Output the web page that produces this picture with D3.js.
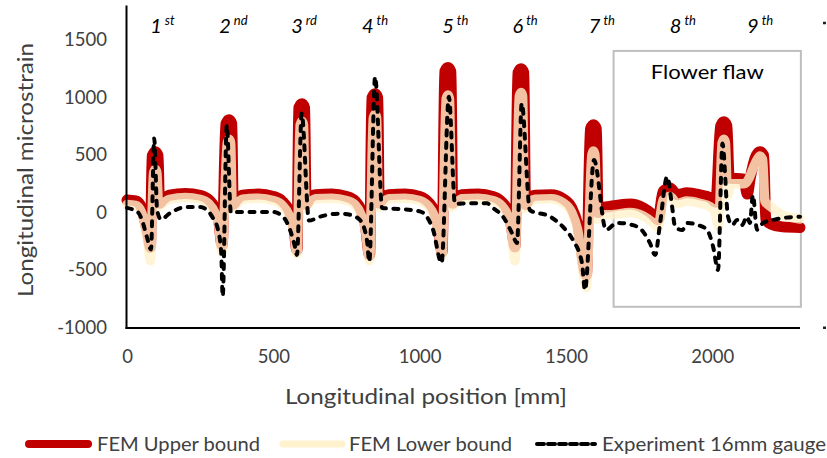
<!DOCTYPE html>
<html><head><meta charset="utf-8">
<script src="https://cdn.jsdelivr.net/npm/d3@7"></script>
<style>
body{margin:0;background:#fff}
svg text{font-family:Lato,"Open Sans",sans-serif}
</style>
</head><body>
<svg id="chart" width="827" height="458"></svg>
<script>
// ---------- DATA (position mm, microstrain) ----------
const xTicks = [0, 500, 1000, 1500, 2000];
const yTicks = [-1000, -500, 0, 500, 1000, 1500];

const upperBound = [
 [0,108],[30,100],[50,40],[62,-80],[72,-200],[80,-302],[86,493],[97,528],[106,493],[111,80],[122,110],[145,150],
 [200,165],[250,150],[280,110],[300,40],[313,-60],[325,-285],[338,772],[349,807],[358,772],[363,70],[375,110],[395,150],
 [450,160],[500,140],[530,100],[555,10],[570,-120],[581,-328],[587,910],[598,945],[607,910],[612,70],[624,120],[645,155],
 [700,160],[750,140],[780,100],[800,20],[815,-120],[829,-372],[837,997],[848,1032],[857,997],[862,80],[874,120],[895,155],
 [950,160],[1000,140],[1030,90],[1050,10],[1063,-120],[1077,-343],[1086,1226],[1097,1261],[1107,1226],[1113,80],[1125,120],[1145,155],
 [1200,160],[1250,140],[1280,95],[1300,20],[1313,-110],[1326,-300],[1336,1215],[1347,1250],[1356,1215],[1362,70],[1374,120],[1395,150],
 [1450,155],[1490,120],[1520,40],[1540,-100],[1570,-546],[1584,728],[1594,763],[1604,728],[1610,0],[1625,40],[1650,52],
 [1719,74],[1764,41],[1798,-20],[1815,-63],[1832,183],[1856,213],[1880,154],[1914,172],[1958,154],[1993,128],[2012,90],
 [2029,754],[2040,789],[2050,754],[2058,300],[2108,290],[2120,160],[2130,300],[2150,494],[2163,529],[2176,494],[2183,-60],[2200,-100],
 [2240,-125],[2300,-130]
];

const lowerBound = [
 [0,70],[30,62],[50,0],[62,-120],[72,-280],[80,-420],[91,346],[97,376],[102,346],[108,50],[120,75],[145,115],
 [200,130],[250,115],[280,75],[300,0],[313,-100],[325,-347],[343,607],[349,637],[354,607],[360,40],[375,75],[395,115],
 [450,125],[500,105],[530,65],[555,-30],[570,-160],[581,-359],[592,763],[598,793],[603,763],[609,40],[624,85],[645,120],
 [700,125],[750,105],[780,65],[800,-20],[815,-160],[829,-420],[842,824],[848,854],[853,824],[859,45],[874,85],[895,120],
 [950,125],[1000,105],[1030,55],[1050,-30],[1063,-160],[1077,-376],[1091,992],[1097,1022],[1102,992],[1109,45],[1125,85],[1145,120],
 [1200,125],[1250,105],[1280,60],[1300,-20],[1313,-150],[1326,-420],[1341,1013],[1347,1043],[1352,1013],[1358,35],[1374,85],[1395,115],
 [1450,120],[1490,85],[1520,0],[1540,-150],[1570,-652],[1589,505],[1594,535],[1599,505],[1606,-60],[1625,-20],[1650,-20],
 [1719,0],[1764,-30],[1798,-90],[1815,-130],[1832,110],[1856,140],[1880,80],[1914,100],[1958,80],[1993,50],[2010,0],
 [2022,-120],[2034,607],[2040,637],[2045,607],[2052,150],[2065,250],[2110,250],[2154,461],[2163,491],[2172,461],[2180,100],[2200,50],
 [2240,-20],[2300,-57]
];

const experiment = [
 [0,40],[38,0],[51,-65],[68,-213],[82,-322],[93,644],[103,20],[116,-60],[147,-5],[205,48],[249,48],[273,22],
 [294,-50],[311,-150],[322,-350],[327,-730],[341,760],[355,0],[386,5],[499,5],[533,-36],[557,-150],[574,-297],
 [581,-370],[597,862],[622,-70],[660,-36],[728,-10],[762,-20],[796,-65],[820,-240],[828,-428],[848,1180],[872,39],
 [933,30],[1001,10],[1046,-150],[1075,-440],[1100,1007],[1121,75],[1172,80],[1230,80],[1251,39],[1285,-36],
 [1316,-180],[1333,-265],[1349,950],[1377,20],[1446,-36],[1490,-125],[1524,-240],[1555,-440],[1565,-674],
 [1596,456],[1637,-150],[1675,-90],[1729,-110],[1764,-167],[1787,-265],[1805,-370],[1822,-90],[1846,311],
 [1863,50],[1873,-123],[1897,-152],[1917,-91],[1951,-109],[1982,-150],[2003,-297],[2020,-500],[2035,600],
 [2054,-36],[2068,-109],[2085,-65],[2102,-109],[2119,-36],[2129,-91],[2139,152],[2153,-150],[2174,-91],
 [2208,-65],[2242,-48],[2300,-36]
];

const peakNumbers = ["1","2","3","4","5","6","7","8","9"];
const peakSuffixes = ["st","nd","rd","th","th","th","th","th","th"];
const peakLabelPos = [99,335,581,823,1097,1336,1598,1875,2139];

const legendNames = ["FEM Upper bound","FEM Lower bound","Experiment 16mm gauge"];
const flawLabel = "Flower flaw";
const flawRange = [1663, 2303, -820, 1405];

// ---------- CHART ----------
const svg = d3.select("#chart");
const x = d3.scaleLinear().domain([0, 2300]).range([127, 800]);
const y = d3.scaleLinear().domain([-1000, 1800]).range([327.5, 5.5]);

const line = d3.line().x(d => x(d[0])).y(d => y(d[1])).curve(d3.curveMonotoneX);

const red = "#C00000", cream = "#FFF2CC";

// flaw box
svg.append("rect")
  .attr("x", x(flawRange[0])).attr("y", y(flawRange[3]))
  .attr("width", x(flawRange[1]) - x(flawRange[0]))
  .attr("height", y(flawRange[2]) - y(flawRange[3]))
  .attr("fill", "none").attr("stroke", "#BFBFBF").attr("stroke-width", 2);
svg.append("text").attr("x", (x(flawRange[0]) + x(flawRange[1])) / 2).attr("y", 79)
  .attr("text-anchor", "middle").attr("font-size", 20).attr("fill", "#000")
  .attr("textLength", 113).attr("lengthAdjust", "spacingAndGlyphs").text(flawLabel);

// series
svg.append("path").datum(upperBound).attr("d", line)
  .attr("fill", "none").attr("stroke", red).attr("stroke-width", 11)
  .attr("stroke-linejoin", "round").attr("stroke-linecap", "round");
svg.append("path").datum(lowerBound).attr("d", line)
  .attr("fill", "none").attr("stroke", cream).attr("stroke-opacity", 0.8).attr("stroke-width", 9.5)
  .attr("stroke-linejoin", "round").attr("stroke-linecap", "round");
svg.append("path").datum(experiment).attr("d", line)
  .attr("fill", "none").attr("stroke", "#000").attr("stroke-width", 4)
  .attr("stroke-dasharray", "5,7.5").attr("stroke-linecap", "round").attr("stroke-linejoin", "round");

// axes
const fmt = d => String(d);
const gy = svg.append("g").attr("transform", "translate(126.5,0)")
  .call(d3.axisLeft(y).tickValues(yTicks).tickFormat(fmt).tickSize(0).tickPadding(19.5));
gy.select(".domain").remove();
gy.selectAll("text").attr("font-size", 18.5).attr("fill", "#404040").style("font-family", "Lato");

const gx = svg.append("g").attr("transform", "translate(0,328)")
  .call(d3.axisBottom(x).tickValues(xTicks).tickFormat(fmt).tickSize(0).tickPadding(22));
gx.select(".domain").remove();
gx.selectAll("text").attr("font-size", 18.5).attr("fill", "#404040").style("font-family", "Lato");

svg.append("line").attr("x1", 126.5).attr("x2", 126.5).attr("y1", 5.5).attr("y2", 329)
  .attr("stroke", "#000").attr("stroke-width", 2);
svg.append("line").attr("x1", 125.5).attr("x2", 800).attr("y1", 328).attr("y2", 328)
  .attr("stroke", "#000").attr("stroke-width", 2);

// small marks at right
[1650, -1000].forEach(v => {
  svg.append("rect").attr("x", 823).attr("y", y(v) - 1).attr("width", 3).attr("height", 2.5).attr("fill", "#222");
});

// axis titles
svg.append("text").attr("transform", "translate(33,170) rotate(-90)")
  .attr("text-anchor", "middle").attr("font-size", 21).attr("fill", "#404040")
  .attr("textLength", 254).attr("lengthAdjust", "spacingAndGlyphs").text("Longitudinal microstrain");
svg.append("text").attr("x", 426).attr("y", 404)
  .attr("text-anchor", "middle").attr("font-size", 21).attr("fill", "#404040")
  .attr("textLength", 282).attr("lengthAdjust", "spacingAndGlyphs").text("Longitudinal position [mm]");

// peak labels
peakNumbers.forEach((n, i) => {
  const t = svg.append("text").attr("y", 33).attr("font-style", "italic").attr("fill", "#000");
  t.append("tspan").attr("font-size", 20).text(n);
  t.append("tspan").attr("font-size", 13).attr("dx", 3).attr("dy", -8).text(peakSuffixes[i]);
  const nw = t.select("tspan").node().getComputedTextLength();
  t.attr("x", x(peakLabelPos[i]) - nw / 2);
});

// legend
const legY = 444;
const lg = svg.append("g");
lg.append("line").attr("x1", 29).attr("x2", 88).attr("y1", legY).attr("y2", legY)
  .attr("stroke", red).attr("stroke-width", 8).attr("stroke-linecap", "round");
lg.append("line").attr("x1", 283).attr("x2", 342).attr("y1", legY).attr("y2", legY)
  .attr("stroke", cream).attr("stroke-width", 7).attr("stroke-linecap", "round");
lg.append("line").attr("x1", 537).attr("x2", 595).attr("y1", legY).attr("y2", legY)
  .attr("stroke", "#000").attr("stroke-width", 4).attr("stroke-dasharray", "7,4").attr("stroke-linecap", "round");
const legX = [97, 349, 602], legW = [163, 163, 224];
legendNames.forEach((s, i) => {
  lg.append("text").attr("x", legX[i]).attr("y", 451).attr("font-size", 19).attr("fill", "#404040")
    .attr("textLength", legW[i]).attr("lengthAdjust", "spacingAndGlyphs").text(s);
});
</script>
</body></html>
